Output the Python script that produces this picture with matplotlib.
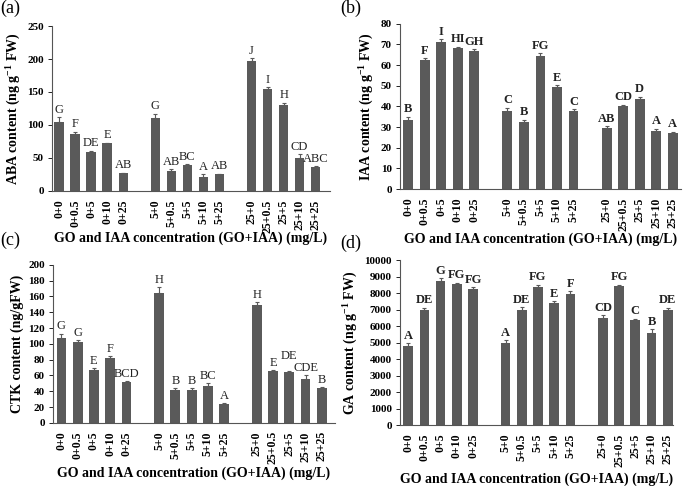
import matplotlib
matplotlib.use("Agg")
import matplotlib.pyplot as plt
import numpy as np

plt.rcParams["font.family"] = ["Liberation Serif", "DejaVu Serif"]
plt.rcParams["mathtext.default"] = "regular"

# ── data ─────────────────────────────────────────────────────────────────────
groups = ["0+0", "0+0.5", "0+5", "0+10", "0+25",
          "5+0", "5+0.5", "5+5", "5+10", "5+25",
          "25+0", "25+0.5", "25+5", "25+10", "25+25"]

aba = [105, 87, 59, 72, 27, 110, 30, 39, 21, 25, 197, 154, 131, 50, 36]
aba_err = [7, 3, 2, 1, 1, 7, 3, 2, 4, 1, 4, 3, 3, 6, 2]
aba_let = ["G", "F", "DE", "E", "AB", "G", "AB", "BC", "A", "AB",
           "J", "I", "H", "CD", "ABC"]

iaa = [33.5, 62.5, 71, 68.5, 66.7, 37.8, 32.5, 64.5, 49.3, 38,
       29.8, 40.3, 43.8, 28.3, 27.3]
iaa_err = [1.5, 1, 1.5, 0.4, 1, 1.5, 1, 1.3, 1, 0.8, 0.7, 0.5, 1, 1, 0.5]
iaa_let = ["B", "F", "I", "HI", "GH", "C", "B", "FG", "E", "C",
           "AB", "CD", "D", "A", "A"]

ctk = [108, 102, 67, 82, 52, 165, 41, 42, 47, 24, 149, 65, 64, 56, 44]
ctk_err = [5, 3, 2, 2, 1, 7, 3, 2, 3, 1, 4, 2, 2, 4, 1]
ctk_let = ["G", "G", "E", "F", "BCD", "H", "B", "B", "BC", "A",
           "H", "E", "DE", "CDE", "B"]

ga = [4800, 7000, 8750, 8550, 8250, 4950, 6950, 8350, 7400, 7950,
      6500, 8400, 6350, 5550, 7000]
ga_err = [150, 100, 150, 80, 100, 200, 200, 150, 120, 150,
          150, 100, 100, 250, 100]
ga_let = ["A", "DE", "G", "FG", "FG", "A", "DE", "FG", "E", "F",
          "CD", "FG", "C", "B", "DE"]

# bar slots: three groups of five with an empty slot between groups
x = np.array([0, 1, 2, 3, 4, 6, 7, 8, 9, 10, 12, 13, 14, 15, 16])

BAR = "#5a5a5a"
XLABEL = "GO and IAA concentration (GO+IAA) (mg/L)"

fig = plt.figure(figsize=(6.85, 4.86), dpi=100)


def panel(rect, vals, errs, letters, ylabel, ylim, yticks, xlim,
          tag, tag_pos, xlabel_y, letter_bold, nudge=None):
    nudge = nudge or {}
    ax = fig.add_axes(rect)
    ax.bar(x, vals, width=0.6, color=BAR, edgecolor="none")
    ax.errorbar(x, vals, yerr=[np.zeros(len(errs)), errs], fmt="none",
                ecolor=BAR, elinewidth=0.8, capsize=1.5, capthick=0.8)
    for i, (xi, v, e, t) in enumerate(zip(x, vals, errs, letters)):
        # letters sit a little above the error bar (nudged where crowded)
        ax.annotate(t, (xi, v + e), xytext=(0, 1 + nudge.get(i, 0)),
                    textcoords="offset points", ha="center", va="bottom",
                    fontsize=9,
                    fontweight="bold" if letter_bold else "normal",
                    color="#222222")
    ax.set_xlim(*xlim)
    ax.set_ylim(*ylim)
    ax.set_yticks(yticks)
    ax.set_xticks(x)
    ax.set_xticklabels(groups, rotation=90, fontsize=8.5, fontweight="bold")
    ax.tick_params(axis="x", length=0, pad=6)
    ax.tick_params(axis="y", length=3, width=0.6, labelsize=8, pad=3)
    for lab in ax.get_yticklabels():
        lab.set_fontweight("bold")
    ax.spines["top"].set_visible(False)
    ax.spines["right"].set_visible(False)
    ax.spines["left"].set_color("#555555")
    ax.spines["bottom"].set_color("#555555")
    ax.set_ylabel(ylabel, fontsize=10, fontweight="bold", labelpad=3)
    cx = rect[0] + rect[2] / 2
    fig.text(cx, xlabel_y, XLABEL, fontsize=10, fontweight="bold",
             ha="center", va="center")
    fig.text(tag_pos[0], tag_pos[1], tag, fontsize=13, ha="left", va="top")
    return ax


panel([0.0759, 0.607, 0.406, 0.3395], aba, aba_err, aba_let,
      "ABA content (ng g$^{-1}$ FW)", (0, 250), range(0, 251, 50),
      (-0.45, 16.9), "(a)", (0.0, 1.0), 1 - 238 / 486, False)
panel([0.584, 0.611, 0.41, 0.340], iaa, iaa_err, iaa_let,
      "IAA content (ng g$^{-1}$ FW)", (0, 80), range(0, 81, 10),
      (-0.5, 16.5), "(b)", (0.497, 1.0), 1 - 239 / 486, True)
panel([0.0778, 0.130, 0.411, 0.325], ctk, ctk_err, ctk_let,
      "CTK content (ng/gFW)", (0, 200), range(0, 201, 20),
      (-0.5, 16.8), "(c)", (0.0, 1 - 232 / 486), 1 - 473 / 486, False,
      nudge={12: 5})
panel([0.584, 0.1255, 0.398, 0.3395], ga, ga_err, ga_let,
      "GA content (ng g$^{-1}$ FW)", (0, 10000), range(0, 10001, 1000),
      (-0.5, 16.3), "(d)", (0.497, 1 - 235 / 486), 1 - 479 / 486, True)

fig.savefig("out.png", dpi=100)
